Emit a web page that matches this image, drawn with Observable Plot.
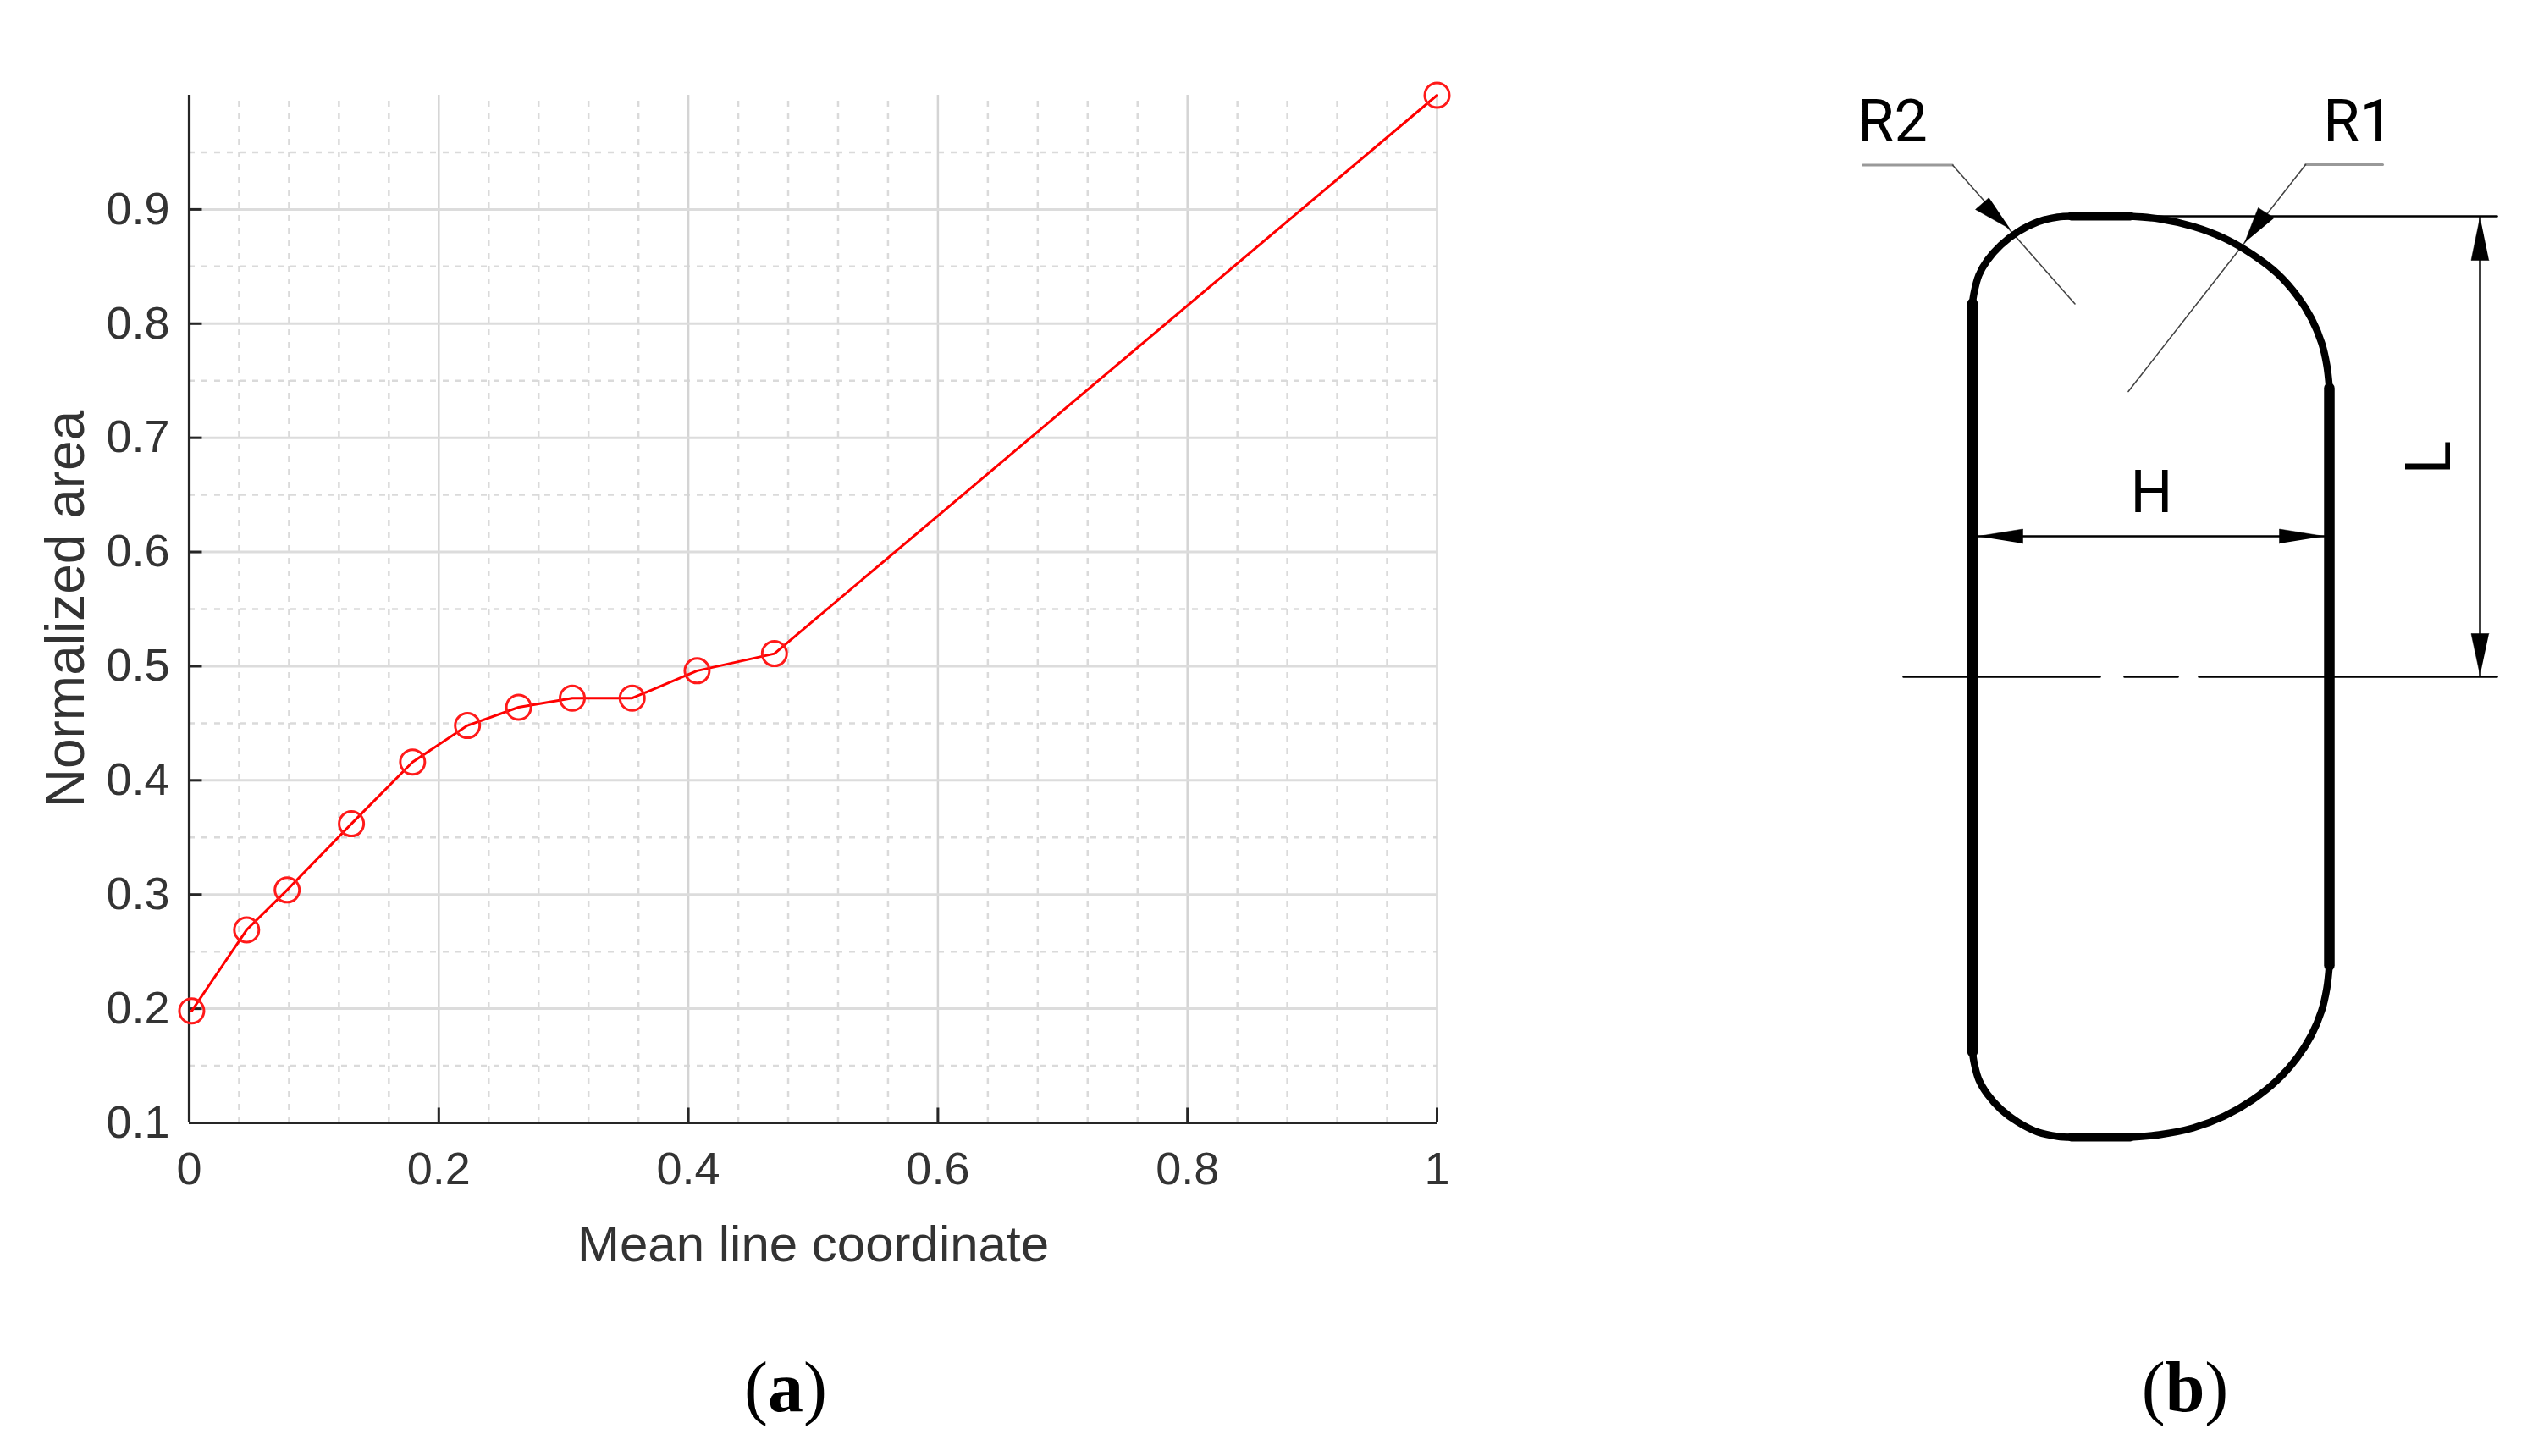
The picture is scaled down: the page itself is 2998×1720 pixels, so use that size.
<!DOCTYPE html>
<html>
<head>
<meta charset="utf-8">
<script src="https://cdn.jsdelivr.net/npm/d3@7"></script>
<script src="https://cdn.jsdelivr.net/npm/@observablehq/plot@0.6"></script>
<style>
  html, body { margin: 0; background: #fff; }
  #page { position: relative; width: 2998px; height: 1720px; overflow: hidden; }
  #page svg { position: absolute; background: transparent; }
  .cap { position: absolute; font-family: "Liberation Serif", serif; font-size: 84px; line-height: 76px; transform: translateX(-50%); color: #000; }
</style>
</head>
<body>
<div id="page"></div>
<script>
// panel a: area curve
var meanLine = [0.002, 0.046, 0.0785, 0.13, 0.179, 0.223, 0.264, 0.307, 0.355, 0.407, 0.469, 1]
var normArea = [0.198, 0.269, 0.304, 0.362, 0.416, 0.448, 0.464, 0.472, 0.472, 0.496, 0.511, 1]

var xMajor = [0, 0.2, 0.4, 0.6, 0.8, 1]
var yMajor = [0.1, 0.2, 0.3, 0.4, 0.5, 0.6, 0.7, 0.8, 0.9]
var xMinor = [0.04, 0.08, 0.12, 0.16, 0.24, 0.28, 0.32, 0.36, 0.44, 0.48, 0.52, 0.56, 0.64, 0.68, 0.72, 0.76, 0.84, 0.88, 0.92, 0.96]
var yMinor = [0.15, 0.25, 0.35, 0.45, 0.55, 0.65, 0.75, 0.85, 0.95]

// panel b: section outline, read in picture pixels
var wallLeft = [[2329.5, 358], [2329.5, 1242]]
var wallRight = [[2751, 458], [2751, 1140]]
var flatTop = [[2446, 255], [2516, 255]]
var flatBottom = [[2446, 1343], [2516, 1343]]
var arcTopLeft = [[2329.5, 358], [2331, 347], [2337, 324.5], [2347, 307], [2363, 289], [2383, 273.5], [2407, 261.5], [2430, 256], [2446, 255]]
var arcTopRight = [[2516, 255], [2550, 258], [2590, 267], [2627, 281], [2660, 300], [2690, 323], [2713, 349], [2730, 376], [2742, 405], [2748, 431], [2751, 458]]
var arcBottomLeft = [[2329.5, 1242], [2331, 1253], [2337, 1275], [2347, 1292], [2363, 1310], [2383, 1325], [2407, 1337], [2430, 1342], [2446, 1343]]
var arcBottomRight = [[2516, 1343], [2550, 1340], [2590, 1332], [2627, 1318], [2660, 1299], [2690, 1275], [2713, 1249], [2730, 1222], [2742, 1193], [2748, 1167], [2751, 1140]]

var thinLines = [
  [[2248, 799], [2480, 799]],
  [[2509, 799], [2572, 799]],
  [[2597, 799], [2949, 799]],
  [[2516, 255], [2949, 255]],
  [[2929, 256], [2929, 797]],
  [[2336, 633], [2745, 633]]
]
var greyShelves = [
  [[2200, 194.5], [2306, 194.5]],
  [[2723, 194], [2814, 194]]
]
var leaders = [
  [[2306, 194.5], [2450.5, 358.5]],
  [[2723, 194], [2513.5, 462]]
]
var arrowHeads = [
  [[2929, 256], [2918.5, 307], [2939.5, 307]],
  [[2929, 797], [2918.5, 748], [2939.5, 748]],
  [[2336, 633], [2389, 624.5], [2389, 641.5]],
  [[2745, 633], [2692, 624.5], [2692, 641.5]],
  [[2374, 270], [2333, 247], [2349, 233]],
  [[2651, 286], [2667, 245], [2686, 257]]
]
var labelText = ["R2", "R1", "H"]
var labelX = [2235, 2785, 2541]
var labelY = [144, 144, 582]

function lineMark(points, opts) {
  return Plot.line(points, {x: d => d[0], y: d => d[1], ...opts})
}

var chartA = Plot.plot({
  width: 1800,
  height: 1560,
  marginLeft: 223,
  marginRight: 103,
  marginTop: 112,
  marginBottom: 234,
  style: {fontFamily: "Liberation Sans", fontSize: "54px", color: "#333", background: "transparent"},
  x: {domain: [0, 1]},
  y: {domain: [0.1, 1]},
  marks: [
    Plot.ruleX(xMinor, {y1: 0.1, y2: 1, stroke: "#dadada", strokeWidth: 2.5, strokeDasharray: "7,8"}),
    Plot.ruleY(yMinor, {stroke: "#dadada", strokeWidth: 2.5, strokeDasharray: "7,8"}),
    Plot.ruleX(xMajor, {y1: 0.1, y2: 1, stroke: "#d4d4d4", strokeWidth: 2.5}),
    Plot.ruleY(yMajor, {stroke: "#dcdcdc", strokeWidth: 3}),
    Plot.ruleX(xMajor, {y1: 0.1, y2: 0.113, stroke: "#262626", strokeWidth: 3}),
    Plot.ruleY(yMajor, {x1: 0, x2: 0.0105, stroke: "#262626", strokeWidth: 3}),
    Plot.ruleX([0], {y1: 0.1, y2: 1, stroke: "#262626", strokeWidth: 3.2}),
    Plot.ruleY([0.1], {stroke: "#262626", strokeWidth: 3.2}),
    Plot.axisX({ticks: xMajor, tickSize: 0, tickPadding: 34, tickFormat: d => String(d), label: null, fontSize: 54}),
    Plot.axisY({ticks: yMajor, tickSize: 0, tickPadding: 23, tickFormat: d => String(d), label: null, fontSize: 54}),
    Plot.text(["Normalized area"], {frameAnchor: "left", textAnchor: "middle", dx: -145, rotate: -90, fontSize: 64, fill: "#333"}),
    Plot.text(["Mean line coordinate"], {frameAnchor: "bottom", lineAnchor: "middle", dy: 144, fontSize: 60, fill: "#333"}),
    Plot.line(meanLine, {x: d => d, y: (d, i) => normArea[i], stroke: "#ff0000", strokeWidth: 3}),
    Plot.dot(meanLine, {x: d => d, y: (d, i) => normArea[i], r: 14.5, stroke: "#ff1a1a", strokeWidth: 3, fill: "none"})
  ]
})
chartA.style.left = "0px"
chartA.style.top = "0px"

var chartB = Plot.plot({
  width: 898,
  height: 1400,
  margin: 0,
  style: {fontFamily: "Roboto", background: "transparent"},
  x: {domain: [2100, 2998], axis: null},
  y: {domain: [60, 1460], reverse: true, axis: null},
  marks: [
    ...thinLines.map(p => lineMark(p, {stroke: "#000", strokeWidth: 2.5})),
    ...greyShelves.map(p => lineMark(p, {stroke: "#999", strokeWidth: 3})),
    ...leaders.map(p => lineMark(p, {stroke: "#444", strokeWidth: 1.6})),
    ...arrowHeads.map(p => lineMark(p, {stroke: "#000", strokeWidth: 0.5, fill: "#000"})),
    lineMark(wallLeft, {stroke: "#000", strokeWidth: 12.5}),
    lineMark(wallRight, {stroke: "#000", strokeWidth: 12.5}),
    lineMark(flatTop, {stroke: "#000", strokeWidth: 10}),
    lineMark(flatBottom, {stroke: "#000", strokeWidth: 10}),
    lineMark(arcTopLeft, {stroke: "#000", strokeWidth: 8.5, curve: "catmull-rom"}),
    lineMark(arcTopRight, {stroke: "#000", strokeWidth: 8.5, curve: "catmull-rom"}),
    lineMark(arcBottomLeft, {stroke: "#000", strokeWidth: 8.5, curve: "catmull-rom"}),
    lineMark(arcBottomRight, {stroke: "#000", strokeWidth: 8.5, curve: "catmull-rom"}),
    Plot.text(labelText, {x: (d, i) => labelX[i], y: (d, i) => labelY[i], fontSize: 70, fill: "#000"}),
    Plot.text(["L"], {x: [2870], y: [540], rotate: -90, fontSize: 74, fill: "#000"})
  ]
})
chartB.style.left = "2100px"
chartB.style.top = "60px"

var page = document.getElementById("page")
page.append(chartA, chartB)

// captions go below the svgs
function caption(letter, left) {
  var div = document.createElement("div")
  div.className = "cap"
  div.style.left = left + "px"
  div.style.top = "1601px"
  div.innerHTML = "(<b>" + letter + "</b>)"
  page.append(div)
}
caption("a", 928)
caption("b", 2581)
</script>
</body>
</html>
